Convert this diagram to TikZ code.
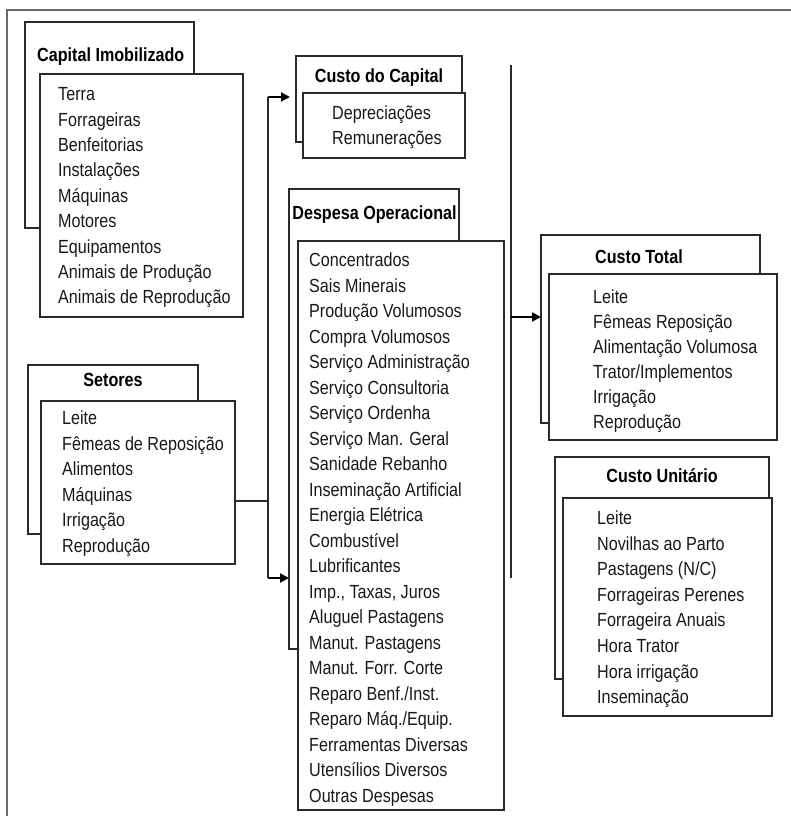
\documentclass[tikz,border=0pt]{standalone}
\usepackage{fontspec}
\setmainfont{Liberation Sans}[FakeStretch=0.85]
\usetikzlibrary{arrows.meta}
\definecolor{boxc}{HTML}{2A2A2A}
\definecolor{framec}{HTML}{6A6A6A}
\begin{document}
\begin{tikzpicture}[x=1pt,y=-1pt,
  box/.style={draw=boxc, line width=1.1pt, fill=white, inner sep=0pt, outer sep=0pt, anchor=north west},
  item/.style={anchor=base west, inner sep=0pt, text=black!90, font=\fontsize{19}{22}\selectfont},
  title/.style={anchor=base, inner sep=0pt, font=\fontsize{19}{22}\selectfont\bfseries},
  conn/.style={draw=boxc, line width=1.1pt},
  frame/.style={draw=framec, line width=1.5pt},
  arr/.style={draw=black, line width=2pt, -{Triangle[length=9pt,width=9pt]}}]
\useasboundingbox (0,0) rectangle (791,816);
\coordinate (fbl) at (7,816);
\coordinate (ftl) at (7,10);
\coordinate (ftr) at (791,10);
\draw[frame] (fbl) -- (ftl) -- (ftr);

% Capital Imobilizado
\node[box, minimum width=169pt, minimum height=206pt] (ciback) at (25,22) {};
\node[box, minimum width=203pt, minimum height=243pt] (cifront) at (40,74) {};
\node[title, anchor=base west] (cititle) at (37,62) {Capital Imobilizado};
\foreach \t [count=\i from 0] in {Terra, Forrageiras, Benfeitorias, Instalações, Máquinas, Motores, Equipamentos, Animais de Produção, Animais de Reprodução}
  \node[item] (ci\i) at (58,{100.7+25.4*\i}) {\t};

% Setores
\node[box, minimum width=170pt, minimum height=169pt] (setback) at (28,365) {};
\node[box, minimum width=194pt, minimum height=163pt] (setfront) at (41,401) {};
\node[title] (settitle) at (113,386.5) {Setores};
\foreach \t [count=\i from 0] in {Leite, Fêmeas de Reposição, Alimentos, Máquinas, Irrigação, Reprodução}
  \node[item] (se\i) at (62,{424.5+25.6*\i}) {\t};

% Custo do Capital
\node[box, minimum width=166pt, minimum height=86pt] (ccback) at (296,56) {};
\node[box, minimum width=162pt, minimum height=65pt] (ccfront) at (303,93) {};
\node[title] (cctitle) at (379,82.5) {Custo do Capital};
\foreach \t [count=\i from 0] in {Depreciações, Remunerações}
  \node[item] (cc\i) at (332,{119.5+25*\i}) {\t};

% Despesa Operacional
\node[box, minimum width=170pt, minimum height=460pt] (doback) at (289,189) {};
\node[box, minimum width=206pt, minimum height=569pt] (dofront) at (298,241) {};
\node[title] (dotitle) at (374.5,219.5) {Despesa Operacional};
\foreach \t [count=\i from 0] in {Concentrados, Sais Minerais, Produção Volumosos, Compra Volumosos, Serviço Administração, Serviço Consultoria, Serviço Ordenha, Serviço Man. Geral, Sanidade Rebanho, Inseminação Artificial, Energia Elétrica, Combustível, Lubrificantes, {Imp., Taxas, Juros}, Aluguel Pastagens, Manut. Pastagens, Manut. Forr. Corte, Reparo Benf./Inst., Reparo Máq./Equip., Ferramentas Diversas, Utensílios Diversos, Outras Despesas}
  \node[item] (do\i) at (309,{266.5+25.5*\i}) {\t};

% Custo Total
\node[box, minimum width=219pt, minimum height=188pt] (ctback) at (541,235) {};
\node[box, minimum width=228pt, minimum height=166pt] (ctfront) at (549,274) {};
\node[title] (cttitle) at (639,263.5) {Custo Total};
\foreach \t [count=\i from 0] in {Leite, Fêmeas Reposição, Alimentação Volumosa, Trator/Implementos, Irrigação, Reprodução}
  \node[item] (ct\i) at (593,{303.5+25*\i}) {\t};

% Custo Unitario
\node[box, minimum width=214pt, minimum height=222pt] (cuback) at (555,457) {};
\node[box, minimum width=209pt, minimum height=218pt] (cufront) at (563,498) {};
\node[title] (cutitle) at (662,482.5) {Custo Unitário};
\foreach \t [count=\i from 0] in {Leite, Novilhas ao Parto, Pastagens (N/C), Forrageiras Perenes, Forrageira Anuais, Hora Trator, Hora irrigação, Inseminação}
  \node[item] (cu\i) at (597,{524.5+25.6*\i}) {\t};

% connectors
\coordinate (j1) at (268,501);
\coordinate (jtop) at (268,97);
\coordinate (jbot) at (268,578);
\draw[conn] (setfront.east |- j1) -- (j1);
\draw[conn] (jtop) -- (jbot);
\draw[arr] (jtop) -- ([xshift=-6pt]ccback.west |- jtop);
\draw[arr] (jbot) -- (doback.west |- jbot);

\coordinate (vt) at (511,65);
\coordinate (vb) at (511,578);
\coordinate (vm) at (511,317);
\draw[conn] (vt) -- (vb);
\draw[arr] (vm) -- (ctback.west |- vm);
\end{tikzpicture}
\end{document}
